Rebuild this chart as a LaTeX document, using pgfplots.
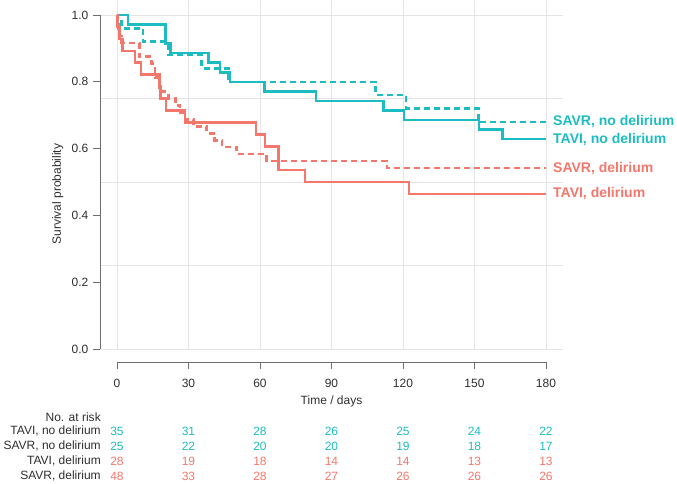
\documentclass[border=0pt]{standalone}
\usepackage{fontspec}
\setmainfont{Liberation Sans}
\usepackage{pgfplots}
\pgfplotsset{compat=1.18}
\definecolor{kmteal}{HTML}{1CBDC2}
\definecolor{kmsalmon}{HTML}{F4776C}
\definecolor{gridgray}{HTML}{E4E4E4}
\definecolor{axgray}{HTML}{6E6E6E}
\definecolor{txt}{HTML}{2E2E2E}
\newcommand{\smallfont}{\fontsize{9}{11}\selectfont}
\newcommand{\lblfont}{\bfseries\fontsize{10.5}{12}\selectfont}
\begin{document}
\begin{tikzpicture}
\begin{axis}[
  scale only axis,
  width=347.25pt, height=261.75pt,
  xmin=-7.134, xmax=187.16, ymin=0, ymax=1.0449,
  clip=false,
  axis line style={draw=none},
  xtick={0,30,60,90,120,150,180}, xticklabels={},
  xmajorgrids, xtick style={draw=none},
  ytick={0,0.2,0.4,0.6,0.8,1}, ytick pos=left,
  tick align=outside, major tick length=5.25pt,
  ytick style={axgray, line width=0.6pt},
  /pgf/number format/assume math mode=true,
  yticklabel style={/pgf/number format/.cd, fixed, fixed zerofill, precision=1, /tikz/.cd,
    font=\smallfont, text=txt},
  extra y ticks={0,0.25,0.5,0.75,1}, extra y tick labels={},
  extra y tick style={grid=major, major tick length=0pt},
  grid style={gridgray, line width=0.7pt},
]
% TAVI, no delirium
\addplot[const plot, kmteal, line width=1.9pt] coordinates {
(0,1) (4.7,0.9714) (20.4,0.9143) (22.5,0.8857) (38.3,0.8571) (43.2,0.8286)
(47.4,0.8) (61.8,0.7714) (83.5,0.7429) (111.8,0.7143) (120.4,0.6857)
(151.9,0.6571) (161.7,0.6286) (180,0.6286)};
% SAVR, no delirium
\addplot[const plot, kmteal, line width=1.9pt, dash pattern=on 4.5pt off 3pt] coordinates {
(0,1) (2,0.96) (11,0.92) (21.5,0.88) (35.5,0.84) (46.7,0.80) (108.5,0.76)
(121.3,0.72) (151.6,0.68) (180,0.68)};
% TAVI, delirium
\addplot[const plot, kmsalmon, line width=1.9pt] coordinates {
(0,1) (0.3,0.9643) (1,0.9286) (2.4,0.8929) (7.6,0.8571) (10.1,0.8214)
(17.8,0.7857) (18.2,0.75) (20.6,0.7143) (28.5,0.6786) (58.3,0.6429)
(62.1,0.6071) (67.7,0.5357) (78.9,0.5) (122.5,0.4643) (180,0.4643)};
% SAVR, delirium
\addplot[const plot, kmsalmon, line width=1.9pt, dash pattern=on 4.5pt off 3pt] coordinates {
(0,1) (0.3,0.9792) (0.7,0.9583) (1.2,0.9375) (2,0.9167) (9.4,0.875)
(14.5,0.8542) (16,0.8125) (17.8,0.7708) (21.5,0.75) (24.5,0.7292)
(26.5,0.7083) (28.5,0.6875) (32,0.6667) (37.6,0.6458) (41,0.625)
(44,0.6042) (50.2,0.5833) (62.8,0.5625) (113.2,0.5417) (180,0.5417)};

% curve labels
\node[anchor=west, inner sep=0pt, text=kmteal, font=\lblfont] at (axis cs:182.9,0.68) {SAVR, no delirium};
\node[anchor=west, inner sep=0pt, text=kmteal, font=\lblfont] at (axis cs:182.9,0.6286) {TAVI, no delirium};
\node[anchor=west, inner sep=0pt, text=kmsalmon, font=\lblfont] at (axis cs:182.9,0.5417) {SAVR, delirium};
\node[anchor=west, inner sep=0pt, text=kmsalmon, font=\lblfont] at (axis cs:182.9,0.4643) {TAVI, delirium};

% y axis line and label
\draw[axgray, line width=0.6pt] (axis cs:-7.134,0) -- (axis cs:-7.134,1);
\node[rotate=90, font=\smallfont, text=txt] at (axis cs:-24.8,0.464) {Survival probability};

% x axis (offset below the panel)
\draw[axgray, line width=0.6pt] (axis cs:0,-0.0389) -- (axis cs:180,-0.0389);
\pgfplotsinvokeforeach{0,30,60,90,120,150,180}{
  \draw[axgray, line width=0.6pt] (axis cs:#1,-0.0389) -- (axis cs:#1,-0.0599);
  \node[font=\smallfont, text=txt] at (axis cs:#1,-0.1018) {#1};
}
\node[font=\smallfont, text=txt] at (axis cs:90,-0.1557) {Time / days};

% number at risk
\node[anchor=east, inner sep=0pt, font=\smallfont, text=txt] at (axis cs:-6.7,-0.2036) {No. at risk};
\node[anchor=east, inner sep=0pt, font=\smallfont, text=txt] at (axis cs:-6.7,-0.2455) {TAVI, no delirium};
\node[anchor=east, inner sep=0pt, font=\smallfont, text=txt] at (axis cs:-6.7,-0.2904) {SAVR, no delirium};
\node[anchor=east, inner sep=0pt, font=\smallfont, text=txt] at (axis cs:-6.7,-0.3353) {TAVI, delirium};
\node[anchor=east, inner sep=0pt, font=\smallfont, text=txt] at (axis cs:-6.7,-0.3802) {SAVR, delirium};
\foreach \x/\n in {0/35,30/31,60/28,90/26,120/25,150/24,180/22}
  {\edef\tmp{\noexpand\node[font=\noexpand\smallfont, text=kmteal] at (axis cs:\x,-0.2455) {\n};}\tmp}
\foreach \x/\n in {0/25,30/22,60/20,90/20,120/19,150/18,180/17}
  {\edef\tmp{\noexpand\node[font=\noexpand\smallfont, text=kmteal] at (axis cs:\x,-0.2904) {\n};}\tmp}
\foreach \x/\n in {0/28,30/19,60/18,90/14,120/14,150/13,180/13}
  {\edef\tmp{\noexpand\node[font=\noexpand\smallfont, text=kmsalmon] at (axis cs:\x,-0.3353) {\n};}\tmp}
\foreach \x/\n in {0/48,30/33,60/28,90/27,120/26,150/26,180/26}
  {\edef\tmp{\noexpand\node[font=\noexpand\smallfont, text=kmsalmon] at (axis cs:\x,-0.3802) {\n};}\tmp}

\coordinate (bl) at (axis cs:-49.09,-0.4012);
\coordinate (tr) at (axis cs:234.97,1.0449);
\end{axis}
\pgfresetboundingbox
\path[use as bounding box] (bl) rectangle (tr);
\end{tikzpicture}
\end{document}
